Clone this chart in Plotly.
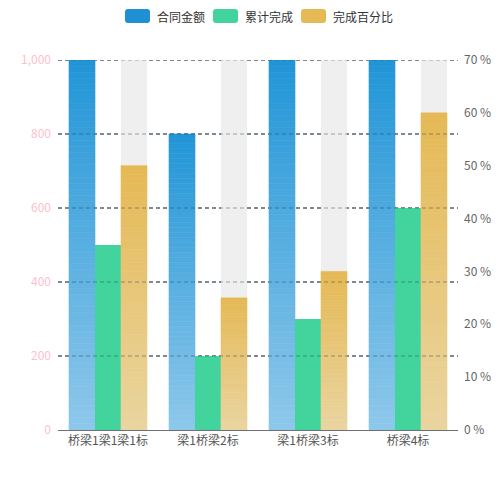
import plotly.graph_objects as go

# -------------------------------
# 数据
# -------------------------------
categories = ["桥梁1梁1梁1标", "梁1桥梁2标", "梁1桥梁3标", "桥梁4标"]
contract_amount = [1000, 800, 1000, 1000]   # 合同金额
completed = [500, 200, 300, 600]            # 累计完成
percent_done = [50, 25, 30, 60]             # 完成百分比 (%)
percent_max = 70
left_ticks = [0, 200, 400, 600, 800, 1000]

names = ["合同金额", "累计完成", "完成百分比"]

# -------------------------------
# 样式
# -------------------------------
BLUE_TOP, BLUE_BOTTOM = (33, 149, 215), (142, 200, 234)
GREEN = "#43d49e"
YELLOW_TOP, YELLOW_BOTTOM = (229, 185, 84), (234, 213, 160)
BG_BAR = "#efefef"
GRID = "#28414f"
N_SEG = 60  # 渐变分段数

OFF = 8  # 页面 body 的默认外边距 (左/上)
ML, MR, MT, MB = 58 - OFF, 42, 60 - OFF, 70


def mix(c_bottom, c_top, t):
    r, g, b = (round(c_bottom[k] + (c_top[k] - c_bottom[k]) * t) for k in range(3))
    return f"rgb({r},{g},{b})"


def gradient_bars(fig, values, c_top, c_bottom, group, yaxis):
    # 每根柱子切成 N_SEG 段叠加, 模拟自上而下的线性渐变
    for i in range(N_SEG):
        col = mix(c_bottom, c_top, (i + 0.5) / N_SEG)
        fig.add_trace(go.Bar(
            x=categories,
            y=[v / N_SEG for v in values],
            base=[v * i / N_SEG for v in values],
            marker=dict(color=col, line=dict(width=0.6, color=col)),
            offsetgroup=group, alignmentgroup="g", yaxis=yaxis,
            showlegend=False, hoverinfo="skip",
        ))


fig = go.Figure()
gradient_bars(fig, contract_amount, BLUE_TOP, BLUE_BOTTOM, "a", "y")
fig.add_trace(go.Bar(x=categories, y=completed, marker=dict(color=GREEN, line=dict(width=0)),
                     offsetgroup="b", alignmentgroup="g", yaxis="y", showlegend=False))
fig.add_trace(go.Bar(x=categories, y=[percent_max] * len(categories),
                     marker=dict(color=BG_BAR, line=dict(width=0)),
                     offsetgroup="c", alignmentgroup="g", yaxis="y2",
                     showlegend=False, hoverinfo="skip"))
gradient_bars(fig, percent_done, YELLOW_TOP, YELLOW_BOTTOM, "c", "y2")

# -------------------------------
# 图例 (圆角矩形 + 文本) 与网格线
# -------------------------------
def rounded_rect(x0, y0, x1, y1, r=3):
    return (f"M{x0 + r},{y0} L{x1 - r},{y0} Q{x1},{y0} {x1},{y0 + r} "
            f"L{x1},{y1 - r} Q{x1},{y1} {x1 - r},{y1} L{x0 + r},{y1} "
            f"Q{x0},{y1} {x0},{y1 - r} L{x0},{y0 + r} Q{x0},{y0} {x0 + r},{y0} Z")


legend_colors = ["rgb(33,143,212)", GREEN, "rgb(229,185,84)"]
legend_x = [125, 213, 301]   # 页面像素位置
legend_cy = 16               # 图例中心 (页面像素)
shapes = []
annotations = []
for name, col, px in zip(names, legend_colors, legend_x):
    shapes.append(dict(type="path", xref="paper", yref="paper", xsizemode="pixel", ysizemode="pixel",
                       xanchor=0, yanchor=1,
                       path=rounded_rect(px - 58, 60 - legend_cy - 7, px + 25 - 58, 60 - legend_cy + 7),
                       fillcolor=col, line=dict(width=0)))
    annotations.append(dict(text=name, xref="paper", yref="paper", x=0, y=1,
                            xshift=px + 30 - 58, yshift=60 - legend_cy, xanchor="left", yanchor="middle",
                            showarrow=False, font=dict(size=12, color="#333333")))

# 虚线网格: 底层实色 + 柱子上方半透明
for t in left_ticks[1:]:
    shapes.append(dict(type="line", xref="paper", yref="y", x0=0, x1=1, y0=t, y1=t,
                       line=dict(color=GRID, width=1, dash="4px,3px"), layer="below"))
    shapes.append(dict(type="line", xref="paper", yref="y", x0=0, x1=1, y0=t, y1=t,
                       line=dict(color=GRID, width=1, dash="4px,3px"), opacity=0.45, layer="above"))

fig.update_layout(
    width=500 - OFF, height=500 - OFF,
    margin=dict(l=ML, r=MR, t=MT, b=MB, autoexpand=False),
    paper_bgcolor="white", plot_bgcolor="white",
    font=dict(family="Noto Sans CJK SC, Noto Sans, sans-serif", size=12),
    barmode="group", bargap=0.22, bargroupgap=0,
    showlegend=False,
    shapes=shapes, annotations=annotations,
    xaxis=dict(showline=True, linecolor="#6e7079", linewidth=1, ticks="", layer="above traces",
               automargin=False,
               tickfont=dict(color="#555555", size=12), showgrid=False, fixedrange=True),
    yaxis=dict(range=[0, 1000], tickvals=left_ticks, tickformat=",", showgrid=False,
               zeroline=False, showline=False, ticks="", ticklabelstandoff=6, automargin=False,
               tickfont=dict(color="#ffc0cb", size=12)),
    yaxis2=dict(range=[0, percent_max], dtick=10, ticksuffix=" %", overlaying="y", side="right",
                showgrid=False, zeroline=False, showline=False, ticks="", ticklabelstandoff=5,
                automargin=False, tickfont=dict(color="#666666", size=12)),
)

fig.write_html("out.html")
